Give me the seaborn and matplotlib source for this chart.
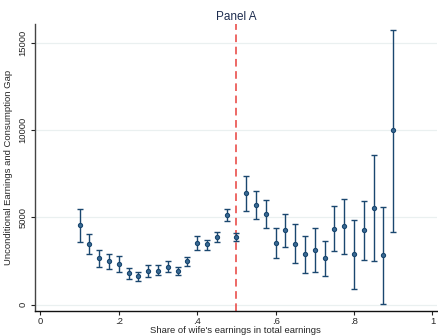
import numpy as np
import pandas as pd
import seaborn as sns
import matplotlib.pyplot as plt

share = [0.1, 0.125, 0.15, 0.175, 0.2, 0.225, 0.25, 0.275, 0.3, 0.325, 0.35, 0.375,
         0.4, 0.425, 0.45, 0.475, 0.5, 0.525, 0.55, 0.575, 0.6, 0.625, 0.65, 0.675,
         0.7, 0.725, 0.75, 0.775, 0.8, 0.825, 0.85, 0.875, 0.9]
gap = [4550, 3490, 2690, 2480, 2320, 1830, 1640, 1940, 1960, 2190, 1960, 2500,
       3520, 3450, 3900, 5120, 3870, 6380, 5710, 5220, 3520, 4270, 3500, 2880,
       3160, 2650, 4340, 4500, 2910, 4270, 5560, 2840, 9980]
upper = [5490, 4060, 3160, 2910, 2780, 2110, 1890, 2300, 2290, 2510, 2190, 2740,
         3920, 3710, 4190, 5500, 4100, 7350, 6530, 6020, 4400, 5200, 4610, 3920,
         4420, 3640, 5640, 6080, 4860, 5960, 8570, 5620, 15710]
lower = [3620, 2900, 2150, 2040, 1850, 1500, 1350, 1580, 1680, 1890, 1730, 2230,
         3120, 3140, 3620, 4820, 3660, 5390, 4900, 4400, 2690, 3310, 2380, 1810,
         1900, 1660, 3050, 2900, 930, 2570, 2530, 40, 4190]

xticks = [0, 0.2, 0.4, 0.6, 0.8, 1.0]
xticklabels = ["0", ".2", ".4", ".6", ".8", "1"]
yticks = [0, 5000, 10000, 15000]

df = pd.DataFrame({"share": share, "gap": gap, "upper": upper, "lower": lower})

sns.set_style("white")
plt.rcParams['font.family'] = ['Liberation Sans', 'DejaVu Sans']

navy = "#1a476f"
fig = plt.figure(figsize=(4.38, 3.35), dpi=100)
ax = fig.add_axes([0.079, 0.073, 0.919, 0.855])

for y in yticks:
    ax.axhline(y, color="#eaf0f0", lw=0.9, zorder=0)

ax.errorbar(df["share"], df["gap"],
            yerr=[df["gap"] - df["lower"], df["upper"] - df["gap"]],
            fmt="none", ecolor=navy, elinewidth=1.0, capsize=2, capthick=1.0, zorder=2)
sns.scatterplot(data=df, x="share", y="gap", ax=ax, color="#3a6a94", edgecolor=navy,
                s=9, linewidth=0.8, zorder=3)

ax.axvline(0.5, color="#e8403c", lw=1.1, ls=(0, (5, 3)), zorder=1)

ax.set_xlim(-0.015, 1.012)
ax.set_ylim(-330, 16060)
ax.set_xticks(xticks)
ax.set_xticklabels(xticklabels)
ax.set_yticks(yticks)
ax.set_yticklabels([str(v) for v in yticks], rotation=90, va="center")
ax.tick_params(axis="both", length=3, width=0.8, color="#222222", labelsize=6.8,
               pad=2, direction="out", bottom=True, left=True)
for side in ["top", "right"]:
    ax.spines[side].set_visible(False)
ax.spines["left"].set_color("#444444")
ax.spines["left"].set_linewidth(1.0)
ax.spines["bottom"].set_color("#111111")
ax.spines["bottom"].set_linewidth(1.0)

ax.set_xlabel("Share of wife's earnings in total earnings", fontsize=6.8, labelpad=0)
ax.set_ylabel("Unconditional Earnings and Consumption Gap", fontsize=6.8, labelpad=4)
ax.set_title("Panel A", fontsize=8.5, color="#1e2d4f", pad=3)

fig.savefig("out.png", dpi=100)
